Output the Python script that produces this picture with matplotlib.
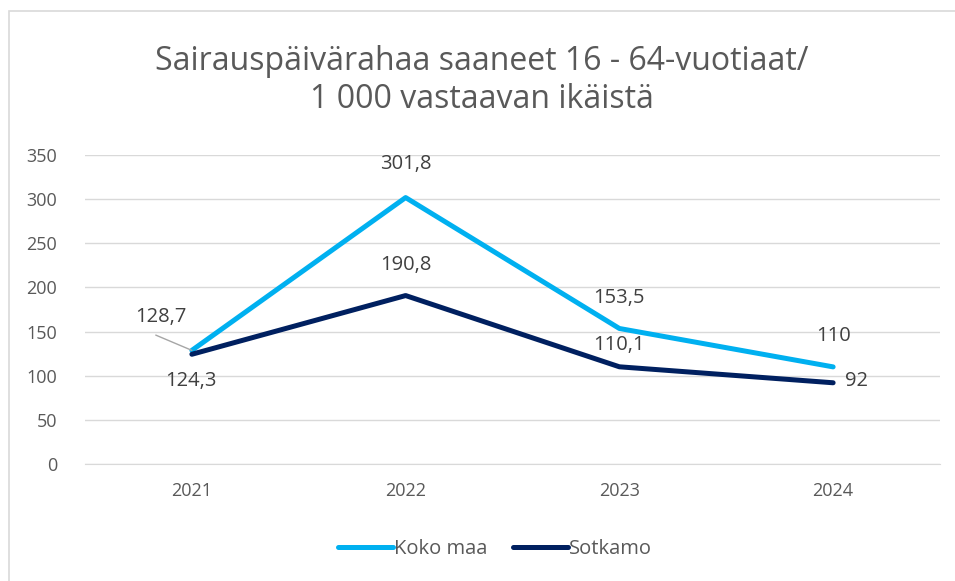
import matplotlib.pyplot as plt
from matplotlib.patches import Rectangle

years = ["2021", "2022", "2023", "2024"]
koko_maa = [128.7, 301.8, 153.5, 110]
sotkamo = [124.3, 190.8, 110.1, 92]
koko_labels = ["128,7", "301,8", "153,5", "110"]
sotkamo_labels = ["124,3", "190,8", "110,1", "92"]

plt.rcParams["font.family"] = ["Open Sans", "DejaVu Sans"]

fig = plt.figure(figsize=(9.55, 5.81), dpi=100)
ax = fig.add_axes([85 / 955, 1 - 464 / 581, 855 / 955, 309 / 581])

x = list(range(len(years)))
ax.plot(x, koko_maa, color="#00B0F0", lw=3.6, label="Koko maa", solid_capstyle="round", zorder=3)
ax.plot(x, sotkamo, color="#002060", lw=3.6, label="Sotkamo", solid_capstyle="round", zorder=3)

ax.set_xlim(-0.5, 3.5)
ax.set_ylim(0, 350)
ax.set_yticks(range(0, 351, 50))
ax.set_xticks(x)
ax.set_xticklabels(years)
ax.grid(axis="y", color="#D9D9D9", lw=1)
ax.set_axisbelow(True)
for s in ["top", "right", "left"]:
    ax.spines[s].set_visible(False)
ax.spines["bottom"].set_color("#D9D9D9")
ax.tick_params(length=0, labelsize=13, labelcolor="#595959")
ax.tick_params(axis="y", pad=20)
ax.tick_params(axis="x", pad=13)

lab = dict(fontsize=14.5, color="#404040", ha="center", va="center")
# Koko maa labels (offsets in points)
offs_k = [(-22, 24), (0, 24), (0, 22), (0, 22)]
for i, (v, t) in enumerate(zip(koko_maa, koko_labels)):
    ax.annotate(t, (i, v), xytext=offs_k[i], textcoords="offset points", **lab)
ax.annotate("", (0, koko_maa[0]), xytext=(-26, 11), textcoords="offset points",
            arrowprops=dict(arrowstyle="-", color="#A6A6A6", lw=1, shrinkA=0, shrinkB=0))
offs_s = [(-1, -19), (0, 22), (0, 16), (17, 1)]
for i, (v, t) in enumerate(zip(sotkamo, sotkamo_labels)):
    ax.annotate(t, (i, v), xytext=offs_s[i], textcoords="offset points", **lab)

fig.text(482 / 955, 1 - 62 / 581, "Sairauspäivärahaa saaneet 16 - 64-vuotiaat/",
         ha="center", va="center", fontsize=23, color="#595959")
fig.text(482 / 955, 1 - 100 / 581, "1 000 vastaavan ikäistä",
         ha="center", va="center", fontsize=23, color="#595959")

leg = fig.legend(loc="center", bbox_to_anchor=(495 / 955, 1 - 549 / 581), ncol=2,
                 frameon=False, fontsize=14.5, handlelength=2.7, handletextpad=0.05,
                 columnspacing=1.3)
for t in leg.get_texts():
    t.set_color("#595959")

fig.patches.append(Rectangle((9 / 955, -0.05), 1.1, 1 - 11 / 581 + 0.05,
                             transform=fig.transFigure, fill=False,
                             edgecolor="#D9D9D9", lw=1.2))

fig.savefig("out.png", dpi=100)
